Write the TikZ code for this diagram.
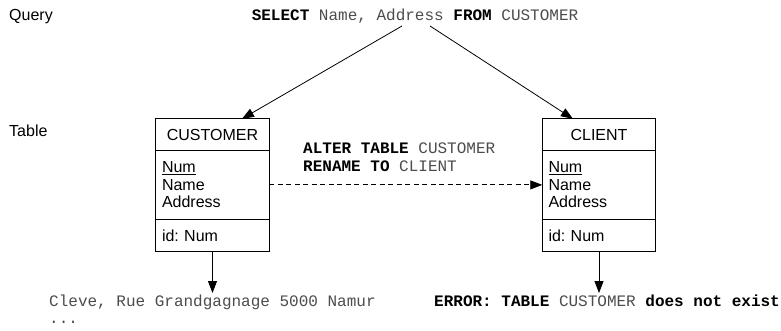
\documentclass[tikz,border=0pt]{standalone}
\usepackage{fontspec}
\setmainfont{Liberation Sans}
\setmonofont{Liberation Mono}
\usetikzlibrary{arrows.meta,calc}
\definecolor{codegray}{gray}{0.3}
\newcommand{\kwd}[1]{\textbf{\color{black}#1}}
\frenchspacing
\begin{document}
\begin{tikzpicture}[x=1pt,y=-1pt,
  sans/.style={font=\fontsize{16}{17.5}\selectfont},
  code/.style={font=\ttfamily\fontsize{16}{18}\selectfont, text=codegray, inner sep=0pt},
  cell/.style={minimum width=113pt, inner sep=0pt, sans},
  hdr/.style={cell, minimum height=31pt},
  attr/.style={cell, minimum height=69pt, text width=101pt, inner xsep=6pt, align=left},
  idrow/.style={cell, minimum height=31pt, text width=101pt, inner xsep=6pt, align=left},
  boxline/.style={line width=0.8pt},
  arr/.style={line width=0.8pt, -{Triangle[length=12pt,width=9pt]}},
]
\useasboundingbox (0,0) rectangle (781,331);

% labels
\node[sans, anchor=west, inner sep=0pt] (lq) at (9,17) {Query};
\node[sans, anchor=west, inner sep=0pt] (lt) at (9,131) {Table};

% query
\node[code] (q) at (415,16) {\kwd{SELECT} Name, Address \kwd{FROM} CUSTOMER};

% CUSTOMER table
\node[hdr] (c1) at (212.5,134.5) {CUSTOMER};
\node[attr, anchor=north] (c2) at (c1.south) {\underline{Num}\\Name\\Address};
\node[idrow, anchor=north] (c3) at (c2.south) {id: Num};
\draw[boxline] (c1.north west) rectangle (c3.south east);
\draw[boxline] (c1.south west) -- (c1.south east);
\draw[boxline] (c3.north west) -- (c3.north east);

% CLIENT table
\node[hdr] (d1) at (599,134.5) {CLIENT};
\node[attr, anchor=north] (d2) at (d1.south) {\underline{Num}\\Name\\Address};
\node[idrow, anchor=north] (d3) at (d2.south) {id: Num};
\draw[boxline] (d1.north west) rectangle (d3.south east);
\draw[boxline] (d1.south west) -- (d1.south east);
\draw[boxline] (d3.north west) -- (d3.north east);

% rename statement
\node[code, anchor=west, align=left] (alt) at (303,157) {\kwd{ALTER TABLE} CUSTOMER\\\kwd{RENAME TO} CLIENT};

% results
\node[code, anchor=base west] (r1) at (49,306) {Cleve, Rue Grandgagnage 5000 Namur};
\node[code, anchor=base west] (r1b) at (49,323) {...};
\node[code, anchor=base west] (r2) at (434,306) {\kwd{ERROR: TABLE} CUSTOMER \kwd{does not exist}};

% connectors
\coordinate (qa) at (402,26);
\coordinate (qb) at (430,26);
\draw[arr] (qa) -- ($(c1.north west)!0.76!(c1.north east)$);
\draw[arr] (qb) -- ($(d1.north west)!0.27!(d1.north east)$);
\draw[arr, dash pattern=on 5pt off 3.5pt] (c2.east) -- (d2.west);
\coordinate (e1) at ($(c3.south)+(0,42)$);
\coordinate (e2) at ($(d3.south)+(0,42)$);
\draw[arr] (c3.south) -- (e1);
\draw[arr] (d3.south) -- (e2);
\end{tikzpicture}
\end{document}
